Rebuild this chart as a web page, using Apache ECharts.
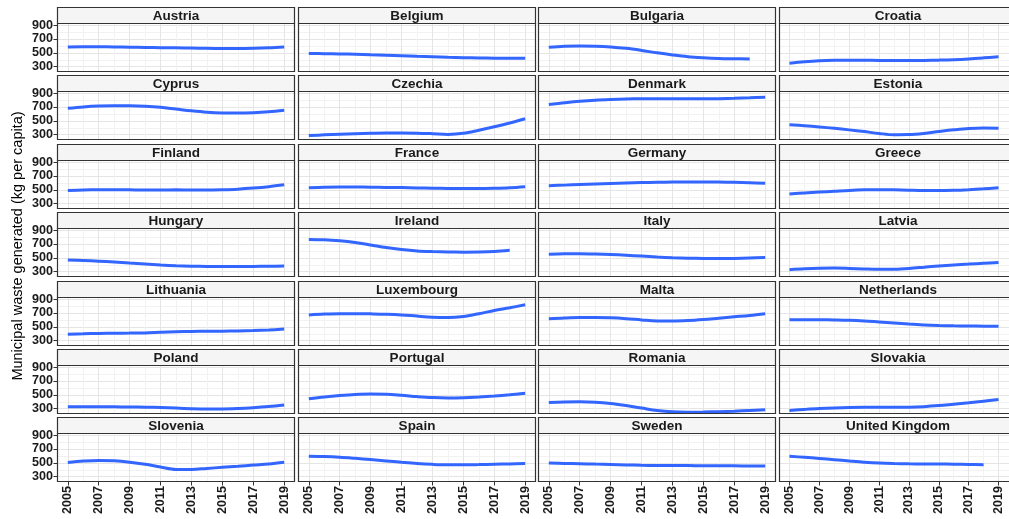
<!DOCTYPE html>
<html><head><meta charset="utf-8">
<script src="https://cdn.jsdelivr.net/npm/echarts@6/dist/echarts.min.js"></script>
<style>html,body{margin:0;padding:0;background:#fff}#c{width:1009px;height:519px}</style>
</head><body><div id="c"></div><script>
const years = [2005,2006,2007,2008,2009,2010,2011,2012,2013,2014,2015,2016,2017,2018,2019];
const xMajorTicks = [2005,2007,2009,2011,2013,2015,2017,2019];
const xMinorTicks = [2006,2008,2010,2012,2014,2016,2018];
const yMajorTicks = [300,500,700,900];
const yMinorTicks = [400,600,800];
const countries = ['Austria','Belgium','Bulgaria','Croatia','Cyprus','Czechia','Denmark','Estonia',
  'Finland','France','Germany','Greece','Hungary','Ireland','Italy','Latvia',
  'Lithuania','Luxembourg','Malta','Netherlands','Poland','Portugal','Romania','Slovakia',
  'Slovenia','Spain','Sweden','United Kingdom'];
const austria     = [585,588,588,586,582,578,575,572,569,566,563,562,565,572,585];
const belgium     = [490,488,485,480,473,466,458,450,443,436,430,426,423,422,423];
const bulgaria    = [580,595,600,596,585,565,535,500,470,445,430,420,415,412,null];
const croatia     = [350,370,385,393,395,393,390,388,388,390,395,402,413,428,445];
const cyprus      = [680,700,713,718,717,710,695,670,645,625,614,612,617,630,651];
const czechia     = [288,298,307,314,320,325,326,323,315,305,320,365,415,470,530];
const denmark     = [735,760,782,798,808,815,818,820,820,818,818,820,825,832,840];
const estonia     = [445,430,412,392,370,345,318,300,302,318,345,370,390,398,395];
const finland     = [492,498,502,503,500,497,498,500,498,498,502,510,525,545,572];
const france      = [530,537,540,540,538,535,532,528,524,520,518,518,522,530,545];
const germany     = [560,568,577,585,593,600,605,609,612,614,614,612,608,602,594];
const greece      = [440,455,468,480,492,500,503,500,494,490,490,494,503,515,530];
const hungary     = [470,462,452,440,425,410,396,386,380,377,376,376,377,379,382];
const ireland     = [765,760,745,720,685,648,620,600,590,584,582,584,592,608,null];
const italy       = [553,558,560,556,548,538,525,512,502,495,491,490,492,498,505];
const latvia      = [330,342,350,353,348,340,335,337,348,365,383,398,410,422,432];
const lithuania   = [395,400,405,408,410,413,422,430,434,436,438,441,446,455,468];
const luxembourg  = [672,684,690,690,687,682,672,655,640,635,650,690,735,775,818];
const malta       = [615,628,635,635,630,618,600,585,583,590,605,625,645,665,690];
const netherlands = [602,604,603,600,595,585,570,555,540,528,520,515,512,510,508];
const poland      = [328,328,328,327,325,322,317,309,301,297,297,303,315,332,355];
const portugal    = [445,470,490,505,512,510,495,475,460,455,458,468,482,500,522];
const romania     = [390,398,400,393,375,345,310,275,255,250,252,258,265,275,285];
const slovakia    = [275,290,303,312,318,320,320,320,322,330,345,365,385,408,432];
const slovenia    = [505,525,535,530,510,480,440,405,405,420,435,450,468,485,510];
const spain       = [596,590,580,565,548,528,508,490,478,472,472,475,480,485,490];
const sweden      = [496,492,488,482,476,470,465,462,460,460,459,458,457,455,453];
const uk          = [595,580,563,545,527,510,497,490,486,484,483,481,477,472,null];
const seriesValues = [austria,belgium,bulgaria,croatia,cyprus,czechia,denmark,estonia,
  finland,france,germany,greece,hungary,ireland,italy,latvia,
  lithuania,luxembourg,malta,netherlands,poland,portugal,romania,slovakia,
  slovenia,spain,sweden,uk];
const yTitle = 'Municipal waste generated (kg per capita)';

const FONT = '"Liberation Sans", Arial, Helvetica, sans-serif';
const NCOL = 4, NROW = 7;
const L0 = 57.3, PITCHX = 240.45, W = 238;
const T0 = 23, PITCHY = 68.4, H = 49, STRIP = 16;
const XMIN = 2004.3, XMAX = 2019.7, YMIN = 224, YMAX = 930;

const grids = [], xAxes = [], yAxes = [], series = [], graphics = [];
countries.forEach((name, i) => {
  const r = Math.floor(i / NCOL), c = i % NCOL;
  const left = Math.round(L0 + c * PITCHX), top = Math.round(T0 + r * PITCHY);
  const bottomRow = (r === NROW - 1), leftCol = (c === 0);
  grids.push({left: left, top: top, width: W, height: H, show: true,
    backgroundColor: '#ffffff', borderWidth: 0, containLabel: false});
  xAxes.push({type: 'value', gridIndex: i, min: XMIN, max: XMAX, position: 'bottom',
    axisLine: {show: false}, axisTick: {show: false, customValues: xMinorTicks},
    axisLabel: {show: false, customValues: xMinorTicks},
    splitLine: {show: true, lineStyle: {color: '#f2f2f2', width: 1}}});
  xAxes.push({type: 'value', gridIndex: i, min: XMIN, max: XMAX, position: 'bottom',
    axisLine: {show: false},
    axisTick: {show: bottomRow, customValues: xMajorTicks, length: 3.5, lineStyle: {color: '#333333', width: 1}},
    axisLabel: {show: bottomRow, customValues: xMajorTicks, rotate: 90, margin: 4,
      color: '#1a1a1a', fontWeight: 'bold', fontSize: 12.6, fontFamily: FONT,
      formatter: v => String(v)},
    splitLine: {show: true, lineStyle: {color: '#e5e5e5', width: 1}}});
  yAxes.push({type: 'value', gridIndex: i, min: YMIN, max: YMAX, position: 'left',
    axisLine: {show: false}, axisTick: {show: false, customValues: yMinorTicks},
    axisLabel: {show: false, customValues: yMinorTicks},
    splitLine: {show: true, lineStyle: {color: '#f2f2f2', width: 1}}});
  yAxes.push({type: 'value', gridIndex: i, min: YMIN, max: YMAX, position: 'left',
    axisLine: {show: false},
    axisTick: {show: leftCol, customValues: yMajorTicks, length: 3.5, lineStyle: {color: '#333333', width: 1}},
    axisLabel: {show: leftCol, customValues: yMajorTicks, margin: 4,
      color: '#1a1a1a', fontWeight: 'bold', fontSize: 12.6, fontFamily: FONT,
      formatter: v => String(v)},
    splitLine: {show: true, lineStyle: {color: '#e5e5e5', width: 1}}});
  series.push({type: 'line', name: name, xAxisIndex: 2 * i + 1, yAxisIndex: 2 * i + 1,
    data: years.map((y, k) => [y, seriesValues[i][k]]),
    smooth: 0.35, showSymbol: false, symbol: 'none', connectNulls: false,
    lineStyle: {color: '#3366FF', width: 3}, z: 5, silent: true});
  // panel border on top
  graphics.push({type: 'rect', shape: {x: left + 0.5, y: top + 0.5, width: W - 1, height: H - 1},
    style: {fill: null, stroke: '#333333', lineWidth: 1.2}, z: 12, silent: true});
  graphics.push({type: 'rect', shape: {x: left + 0.5, y: top - STRIP + 0.5, width: W - 1, height: STRIP},
    style: {fill: '#f5f5f5', stroke: '#333333', lineWidth: 1.2}, z: 12, silent: true});
  graphics.push({type: 'text', x: left + W / 2, y: top - STRIP / 2 + 1,
    style: {text: name, align: 'center', verticalAlign: 'middle', fill: '#1a1a1a',
      font: 'bold 13.5px ' + FONT}, z: 13, silent: true});
});
graphics.push({type: 'text', x: 18, y: 246, rotation: Math.PI / 2,
  style: {text: yTitle, align: 'center', verticalAlign: 'middle', fill: '#000000',
    font: '14.5px ' + FONT}, z: 13, silent: true});

const chart = echarts.init(document.getElementById('c'), null, {renderer: 'canvas'});
chart.setOption({
  animation: false,
  backgroundColor: '#ffffff',
  grid: grids, xAxis: xAxes, yAxis: yAxes, series: series,
  graphic: {elements: graphics}
});
</script></body></html>
